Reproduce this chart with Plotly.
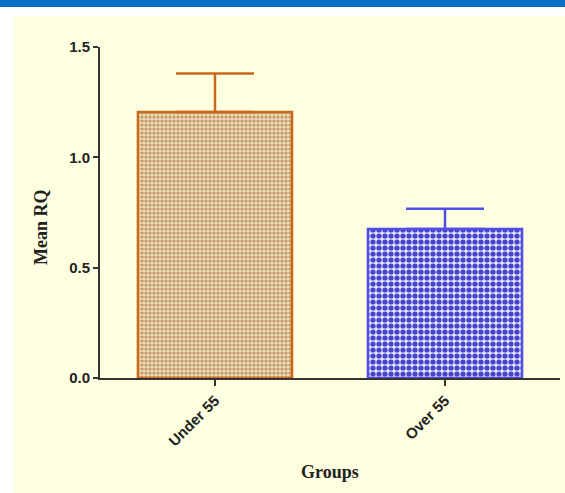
import plotly.graph_objects as go

categories = ["Under 55", "Over 55"]
mean_rq = [1.205, 0.675]
sem_up = [0.175, 0.092]
bar_colors = ["#C8691C", "#4F4FE8"]
y_ticks = [0.0, 0.5, 1.0, 1.5]
y_tick_labels = ["0.0", "0.5", "1.0", "1.5"]

fig = go.Figure()
patterns = [
    dict(shape=".", fgcolor="#C39866", bgcolor="#EEDCB8", size=4, solidity=0.5, fillmode="replace"),
    dict(shape=".", fgcolor="#4444CC", bgcolor="#E6E6FA", size=6, solidity=0.6, fillmode="replace"),
]
for i, cat in enumerate(categories):
    fig.add_trace(go.Bar(
        x=[cat], y=[mean_rq[i]], width=0.67,
        marker=dict(color="#FFFFFF", line=dict(color=bar_colors[i], width=2.5), pattern=patterns[i]),
        error_y=dict(type="data", array=[sem_up[i]], arrayminus=[0], symmetric=False,
                     color=bar_colors[i], thickness=2.5, width=39),
        showlegend=False,
    ))

fig.update_layout(
    width=565, height=493,
    margin=dict(l=100, r=5, t=47, b=115),
    paper_bgcolor="#FEFEE0",
    plot_bgcolor="rgba(0,0,0,0)",
    xaxis=dict(range=[-0.5, 1.5], showline=True, linecolor="#333333", linewidth=2,
               ticks="outside", ticklen=6, tickwidth=2, tickcolor="#333333",
               tickangle=-45, showgrid=False, zeroline=False,
               tickfont=dict(family="Liberation Sans", size=15, color="#222222", weight="bold")),
    yaxis=dict(range=[0, 1.5], showline=True, linecolor="#333333", linewidth=2,
               ticks="outside", ticklen=5, tickwidth=2, tickcolor="#333333",
               tickvals=y_ticks, ticktext=y_tick_labels, showgrid=False, zeroline=False,
               tickfont=dict(family="Liberation Sans", size=15, color="#222222", weight="bold")),
    shapes=[
        dict(type="rect", xref="paper", yref="paper", x0=-0.25, x1=1.05, y0=(378 - 16) / 331, y1=1.2,
             fillcolor="#FFFFFF", line=dict(width=0), layer="above"),
        dict(type="rect", xref="paper", yref="paper", x0=-0.25, x1=-87 / 460, y0=-0.4, y1=1.2,
             fillcolor="#FFFFFF", line=dict(width=0), layer="above"),
        dict(type="rect", xref="paper", yref="paper", x0=-0.25, x1=1.05, y0=(378 - 7) / 331, y1=1.2,
             fillcolor="#0A6EC2", line=dict(width=0), layer="above"),
    ],
    annotations=[
        dict(text="<b>Mean RQ</b>", xref="paper", yref="paper", x=(41 - 100) / 460, y=(378 - 227) / 331,
             textangle=-90, showarrow=False, xanchor="center", yanchor="middle",
             font=dict(family="Liberation Serif", size=18, color="#222222")),
        dict(text="<b>Groups</b>", xref="paper", yref="paper", x=0.5, y=(378 - 472) / 331,
             showarrow=False, xanchor="center", yanchor="middle",
             font=dict(family="Liberation Serif", size=18, color="#222222")),
    ],
)

fig.write_html("out.html", config={"displayModeBar": False},
               post_script="document.body.style.margin='0';")
